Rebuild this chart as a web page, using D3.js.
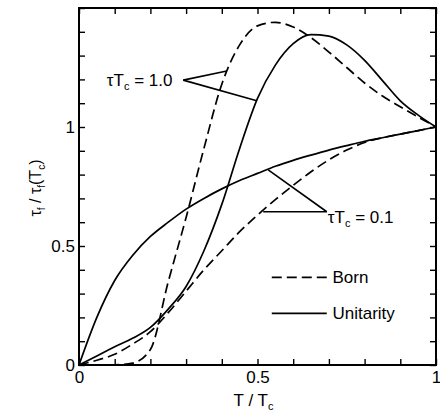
<!DOCTYPE html>
<html>
<head>
<meta charset="utf-8">
<script src="https://cdn.jsdelivr.net/npm/d3@7"></script>
<style>
  body { margin: 0; background: #fff; }
  svg { display: block; font-family: "Liberation Sans", Arial, Helvetica, sans-serif; }
</style>
</head>
<body>
<svg id="chart" width="440" height="414"></svg>
<script>
// reduced temperature grid
const tGrid = [0, 0.05, 0.1, 0.15, 0.2, 0.25, 0.3, 0.35, 0.4, 0.45, 0.5,
               0.55, 0.6, 0.65, 0.7, 0.75, 0.8, 0.85, 0.9, 0.95, 1.0];

// tau*Tc = 1.0
const bornHigh = [0, 0, 0.001, 0.008, 0.065, 0.35, 0.62, 0.91, 1.18, 1.345, 1.425,
                  1.44, 1.42, 1.375, 1.315, 1.25, 1.185, 1.13, 1.085, 1.042, 1.0];
const unitHigh = [0, 0.038, 0.077, 0.112, 0.158, 0.235, 0.33, 0.48, 0.675, 0.91, 1.12,
                  1.26, 1.35, 1.388, 1.382, 1.345, 1.28, 1.195, 1.11, 1.05, 1.0];

// tau*Tc = 0.1
const bornLow = [0, 0.02, 0.045, 0.088, 0.14, 0.22, 0.31, 0.4, 0.48, 0.56, 0.63,
                 0.695, 0.755, 0.812, 0.862, 0.903, 0.935, 0.955, 0.97, 0.985, 1.0];
const unitLow = [0, 0.2, 0.355, 0.46, 0.54, 0.6, 0.655, 0.7, 0.74, 0.775, 0.805,
                 0.835, 0.86, 0.882, 0.903, 0.922, 0.94, 0.955, 0.97, 0.985, 1.0];

const xTicks = [0, 0.1, 0.2, 0.3, 0.4, 0.5, 0.6, 0.7, 0.8, 0.9, 1];
const yTicks = [0, 0.1, 0.2, 0.3, 0.4, 0.5, 0.6, 0.7, 0.8, 0.9, 1, 1.1, 1.2, 1.3, 1.4, 1.5];
const tickLabels = ["0", "0.5", "1"];

const margin = { top: 8, right: 4, bottom: 49, left: 79 };
const width = 440 - margin.left - margin.right;
const height = 414 - margin.top - margin.bottom;

const svg = d3.select("#chart");
const g = svg.append("g").attr("transform", `translate(${margin.left},${margin.top})`);

const x = d3.scaleLinear().domain([0, 1]).range([0, width]);
const y = d3.scaleLinear().domain([0, 1.5]).range([height, 0]);

const fmt = d => {
    const s = d3.format("~g")(+d.toFixed(2));
    return tickLabels.includes(s) ? s : "";
};

/**
 * styleAxis: strip domain, set tick look
 */
function styleAxis(sel) {
    sel.select(".domain").remove();
    sel.selectAll("line").attr("stroke", "#000").attr("stroke-width", 1.4);
    sel.selectAll("text").attr("fill", "#000").attr("font-size", "17px");
    return sel;
}

g.append("g")
    .attr("transform", `translate(0,${height})`)
    .call(d3.axisBottom(x).tickValues(xTicks).tickSize(-6).tickPadding(6).tickFormat(fmt))
    .call(styleAxis);
g.append("g")
    .call(d3.axisTop(x).tickValues(xTicks).tickSize(-6).tickFormat(""))
    .call(styleAxis);
g.append("g")
    .call(d3.axisLeft(y).tickValues(yTicks).tickSize(-6).tickPadding(4).tickFormat(fmt))
    .call(styleAxis);
g.append("g")
    .attr("transform", `translate(${width},0)`)
    .call(d3.axisRight(y).tickValues(yTicks).tickSize(-6).tickFormat(""))
    .call(styleAxis);

// frame
g.append("rect")
    .attr("width", width).attr("height", height)
    .attr("fill", "none").attr("stroke", "#000").attr("stroke-width", 2);

// curves
const line = d3.line()
    .x((d, i) => x(tGrid[i]))
    .y(d => y(d))
    .curve(d3.curveMonotoneX);

const series = [
    { values: bornHigh, dash: "10,5" },
    { values: unitHigh, dash: null },
    { values: bornLow, dash: "10,5" },
    { values: unitLow, dash: null }
];

g.selectAll("path.curve")
    .data(series)
    .enter()
    .append("path")
    .attr("class", "curve")
    .attr("d", d => line(d.values))
    .attr("fill", "none")
    .attr("stroke", "#000")
    .attr("stroke-width", 1.7)
    .attr("stroke-dasharray", d => d.dash);

// annotation leaders
const leaders = [
    [[0.292, 1.197], [0.414, 1.235]],
    [[0.292, 1.197], [0.498, 1.11]],
    [[0.694, 0.644], [0.53, 0.82]],
    [[0.694, 0.644], [0.516, 0.644]]
];
g.selectAll("line.leader")
    .data(leaders)
    .enter()
    .append("line")
    .attr("class", "leader")
    .attr("x1", d => x(d[0][0])).attr("y1", d => y(d[0][1]))
    .attr("x2", d => x(d[1][0])).attr("y2", d => y(d[1][1]))
    .attr("stroke", "#000").attr("stroke-width", 1.6);

function tauLabel(px, py, value) {
    const t = g.append("text")
        .attr("x", px).attr("y", py)
        .attr("font-size", "17px");
    t.append("tspan").text("\u03c4T");
    t.append("tspan").attr("font-size", "11px").attr("dy", 4).text("c");
    t.append("tspan").attr("dy", -4).text(" = " + value);
}
tauLabel(x(0.078), y(1.172), "1.0");
tauLabel(x(0.697), y(0.597), "0.1");

// legend
const legend = [
    { name: "Born", dash: "10,5", yv: 0.368 },
    { name: "Unitarity", dash: null, yv: 0.217 }
];
const lg = g.selectAll("g.legend")
    .data(legend)
    .enter()
    .append("g")
    .attr("class", "legend");
lg.append("line")
    .attr("x1", x(0.54)).attr("x2", x(0.694))
    .attr("y1", d => y(d.yv)).attr("y2", d => y(d.yv))
    .attr("stroke", "#000").attr("stroke-width", 1.7)
    .attr("stroke-dasharray", d => d.dash);
lg.append("text")
    .attr("x", x(0.71))
    .attr("y", d => y(d.yv))
    .attr("dy", "0.35em")
    .attr("font-size", "17px")
    .text(d => d.name);

// axis titles
const xt = svg.append("text")
    .attr("x", margin.left + x(0.5) - 4)
    .attr("y", 406)
    .attr("text-anchor", "middle")
    .attr("font-size", "17px");
xt.append("tspan").text("T / T");
xt.append("tspan").attr("font-size", "11px").attr("dy", 4).text("c");

const yt = svg.append("text")
    .attr("transform", "translate(41,188) rotate(-90)")
    .attr("text-anchor", "middle")
    .attr("font-size", "16px");
yt.append("tspan").text("\u03c4");
yt.append("tspan").attr("font-size", "10px").attr("dy", 4).text("f");
yt.append("tspan").attr("dy", -4).text(" / \u03c4");
yt.append("tspan").attr("font-size", "10px").attr("dy", 4).text("f");
yt.append("tspan").attr("dy", -4).text("(T");
yt.append("tspan").attr("font-size", "10px").attr("dy", 4).text("c");
yt.append("tspan").attr("dy", -4).text(")");
</script>
</body>
</html>
